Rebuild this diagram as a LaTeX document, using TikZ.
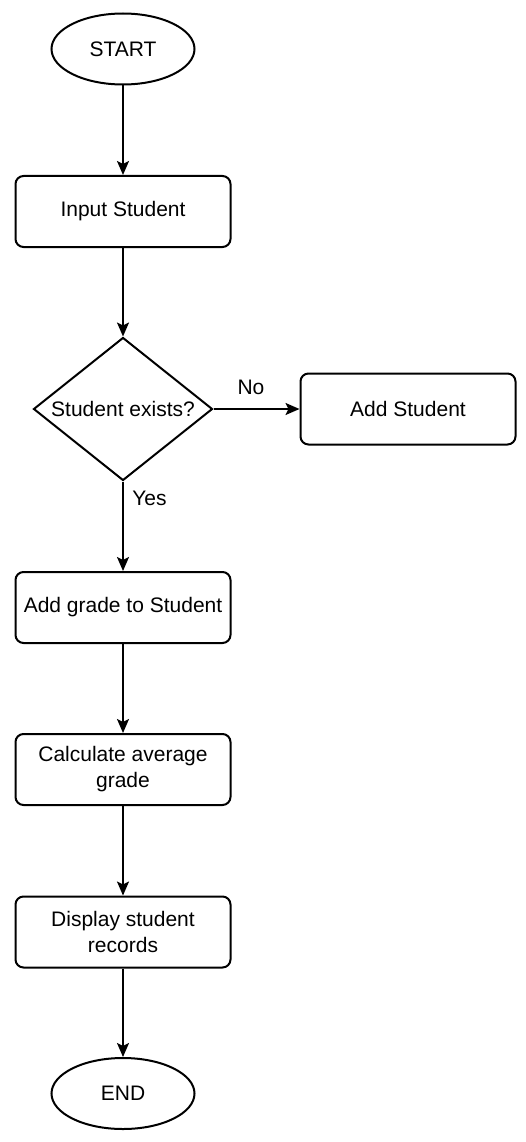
\documentclass[tikz,border=0pt]{standalone}
\usepackage{fontspec}
\setmainfont{Liberation Sans}
\usepackage{tikz}
\usetikzlibrary{shapes,arrows.meta,positioning}

\begin{document}
\begin{tikzpicture}[x=1pt, y=-1pt,
  procbox/.style={rectangle, draw, line width=2pt, rounded corners=8pt, minimum width=215pt, minimum height=71pt, inner sep=2pt, align=center, font=\fontsize{21}{26}\selectfont},
  termnode/.style={ellipse, draw, line width=2pt, minimum width=143pt, minimum height=71pt, inner sep=0pt, font=\fontsize{21}{26}\selectfont},
  decnode/.style={diamond, draw, line width=2pt, aspect=1.25, minimum width=179pt, minimum height=143pt, inner sep=0pt, font=\fontsize{21}{26}\selectfont},
  lbl/.style={font=\fontsize{21}{26}\selectfont},
  arr/.style={-{Stealth[length=14pt, width=12pt, inset=3pt]}, line width=2pt}
]
  \useasboundingbox (0,0) rectangle (526,1142);
  \node[termnode] (start) at (123,49) {START};
  \node[procbox] (input) at (123,211.5) {Input Student};
  \node[decnode] (exists) at (123,409) {Student exists?};
  \node[procbox] (addstudent) at (408,409) {Add Student};
  \node[procbox] (addgrade) at (123,607.5) {Add grade to Student};
  \node[procbox] (average) at (123,769.5) {Calculate average\\grade};
  \node[procbox] (display) at (123,932) {Display student\\records};
  \node[termnode] (end) at (123,1093.5) {END};
  \node[lbl] (no) at (251,387) {No};
  \node[lbl] (yes) at (149.5,498.5) {Yes};
  \draw[arr] (start) -- (input);
  \draw[arr] (input) -- (exists);
  \draw[arr] (exists) -- (addstudent);
  \draw[arr] (exists) -- (addgrade);
  \draw[arr] (addgrade) -- (average);
  \draw[arr] (average) -- (display);
  \draw[arr] (display) -- (end);
\end{tikzpicture}
\end{document}
